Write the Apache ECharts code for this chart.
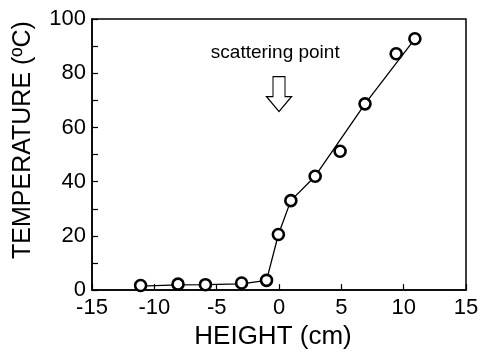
<!DOCTYPE html>
<html>
<head>
<meta charset="utf-8">
<script src="https://cdn.jsdelivr.net/npm/echarts@6/dist/echarts.min.js"></script>
<style>
  html, body { margin: 0; padding: 0; background: #fff; }
  #chart { width: 483px; height: 355px; }
</style>
</head>
<body>
<div id="chart"></div>
<script>
// measured points
const heights = [-11.1, -8.1, -5.9, -3.0, -1.0, -0.05, 0.95, 2.9, 4.9, 6.9, 9.4, 10.9]
const temps = [1.7, 2.2, 2.0, 2.6, 3.6, 20.5, 33, 42, 51.2, 68.7, 87.2, 92.7]

// fitted line vertices
const fitX = [-11.1, -8.1, -5.9, -3.0, -1.0, -0.05, 0.95, 2.9, 6.9, 10.9]
const fitY = [1.5, 1.9, 2.0, 2.3, 3.6, 20.5, 33, 42, 68.7, 92.7]

// x / y axis ranges
const xTicks = [-15, -10, -5, 0, 5, 10, 15]
const yTicks = [0, 20, 40, 60, 80, 100]

const font = 'Liberation Sans, Arial, sans-serif'

const chart = echarts.init(document.getElementById('chart'))

const axisCommon = {
  axisLine: { show: true, onZero: false, lineStyle: { color: '#000', width: 1.5 } },
  axisTick: { show: true, inside: true, length: 6, lineStyle: { color: '#000', width: 1.2 } },
  splitLine: { show: false },
  axisLabel: { color: '#000', fontSize: 22, fontFamily: font }
}

chart.setOption({
  animation: false,
  backgroundColor: '#fff',
  grid: {
    left: 92, right: 17, top: 19, bottom: 63,
    show: true, borderColor: '#000', borderWidth: 1.5, backgroundColor: 'transparent'
  },
  xAxis: {
    ...axisCommon,
    type: 'value',
    min: xTicks[0],
    max: xTicks[xTicks.length - 1],
    interval: 5,
    name: 'HEIGHT (cm)',
    nameLocation: 'middle',
    nameGap: 33,
    nameTextStyle: { color: '#000', fontSize: 26, fontFamily: font, padding: [0, 12, 0, 0] },
    axisLabel: { ...axisCommon.axisLabel, margin: 7 }
  },
  yAxis: {
    ...axisCommon,
    type: 'value',
    min: yTicks[0],
    max: yTicks[yTicks.length - 1],
    interval: 20,
    minorTick: { show: true, splitNumber: 2, length: 6, lineStyle: { color: '#000', width: 1.2 } },
    name: 'TEMPERATURE (ºC)',
    nameLocation: 'middle',
    nameGap: 56,
    nameTextStyle: { color: '#000', fontSize: 25, fontFamily: font, padding: [0, 0, 0, 29] },
    axisLabel: { ...axisCommon.axisLabel, margin: 6 }
  },
  series: [
    {
      type: 'line',
      data: fitX.map((x, i) => [x, fitY[i]]),
      showSymbol: false,
      lineStyle: { color: '#000', width: 1.3 },
      z: 2,
      markPoint: {
        symbol: 'path://M6.5,0 H18.5 V20 H25 L12.5,35 L0,20 H6.5 Z',
        symbolSize: [25, 35],
        symbolKeepAspect: false,
        itemStyle: { color: '#fff', borderColor: '#000', borderWidth: 1.2 },
        label: { show: false },
        data: [{ coord: [0, 72.3] }]
      }
    },
    {
      type: 'scatter',
      data: heights.map((x, i) => [x, temps[i]]),
      symbol: 'circle',
      symbolSize: 11,
      itemStyle: { color: '#fff', borderColor: '#000', borderWidth: 2.6, opacity: 1 },
      z: 3,
      markPoint: {
        symbol: 'circle',
        symbolSize: 1,
        itemStyle: { color: 'rgba(0,0,0,0)', borderWidth: 0 },
        label: {
          show: true,
          position: 'inside',
          formatter: 'scattering point',
          color: '#000',
          fontSize: 19,
          fontFamily: font
        },
        data: [{ coord: [-0.3, 87.5] }]
      }
    }
  ]
})
</script>
</body>
</html>
